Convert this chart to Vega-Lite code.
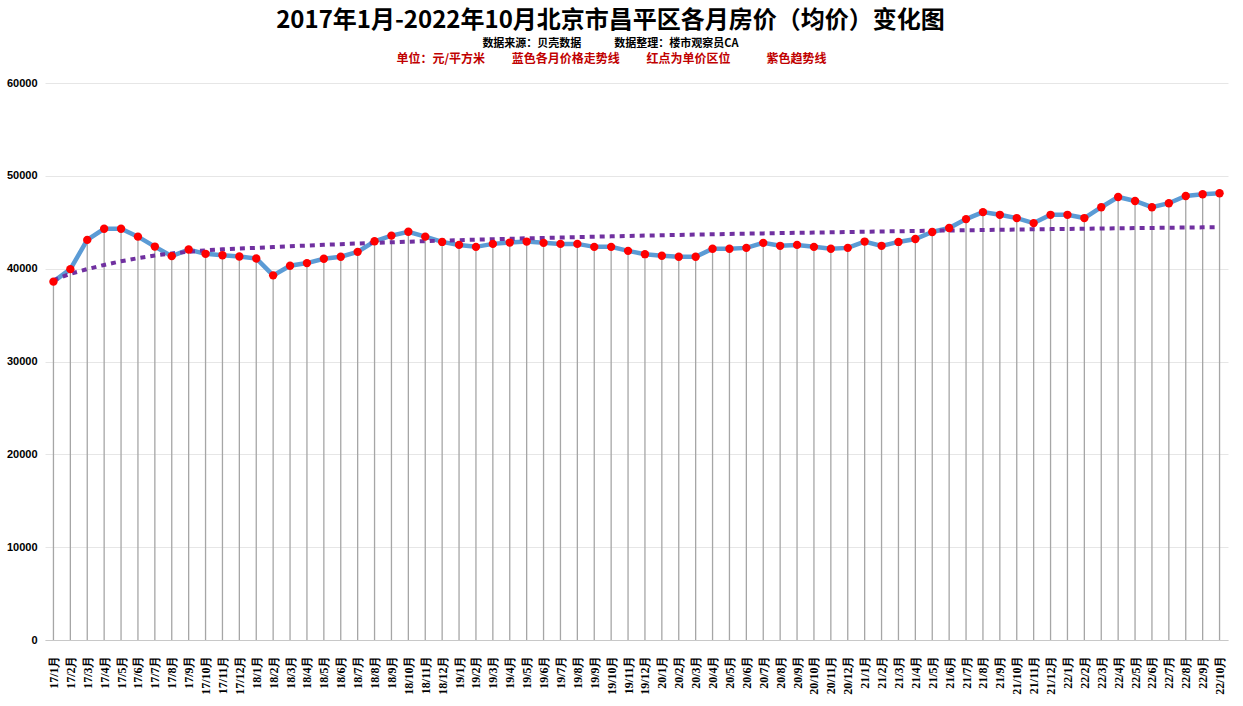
{
  "$schema": "https://vega.github.io/schema/vega-lite/v6.json",
  "width": 1183,
  "height": 557,
  "autosize": {"type": "none"},
  "padding": {"left": 45, "top": 83, "right": 15, "bottom": 66},
  "background": "white",
  "config": {"view": {"stroke": null}},
  "title": {
    "text": "2017年1月-2022年10月北京市昌平区各月房价（均价）变化图",
    "subtitle": "数据来源：贝壳数据　　　数据整理：楼市观察员CA",
    "anchor": "middle",
    "dx": -26,
    "font": "Noto Sans CJK SC",
    "fontSize": 24,
    "fontWeight": "bold",
    "color": "#000000",
    "subtitleFont": "Noto Sans CJK SC",
    "subtitleFontSize": 11,
    "subtitleFontWeight": "bold",
    "subtitleColor": "#000000",
    "subtitlePadding": 5,
    "offset": 3
  },
  "data": {
    "values": [
      {"m": "17/1月", "price": 38600, "trend": 38750},
      {"m": "17/2月", "price": 39950, "trend": 39450},
      {"m": "17/3月", "price": 43100, "trend": 39950},
      {"m": "17/4月", "price": 44300, "trend": 40400},
      {"m": "17/5月", "price": 44300, "trend": 40800},
      {"m": "17/6月", "price": 43450, "trend": 41130},
      {"m": "17/7月", "price": 42380, "trend": 41420},
      {"m": "17/8月", "price": 41350, "trend": 41640},
      {"m": "17/9月", "price": 42060, "trend": 41820},
      {"m": "17/10月", "price": 41600, "trend": 41970},
      {"m": "17/11月", "price": 41450, "trend": 42080},
      {"m": "17/12月", "price": 41310, "trend": 42170},
      {"m": "18/1月", "price": 41100, "trend": 42240},
      {"m": "18/2月", "price": 39280, "trend": 42330},
      {"m": "18/3月", "price": 40320, "trend": 42410},
      {"m": "18/4月", "price": 40600, "trend": 42490},
      {"m": "18/5月", "price": 41070, "trend": 42570},
      {"m": "18/6月", "price": 41280, "trend": 42640},
      {"m": "18/7月", "price": 41810, "trend": 42710},
      {"m": "18/8月", "price": 42950, "trend": 42780},
      {"m": "18/9月", "price": 43560, "trend": 42840},
      {"m": "18/10月", "price": 43980, "trend": 42900},
      {"m": "18/11月", "price": 43450, "trend": 42960},
      {"m": "18/12月", "price": 42880, "trend": 43020},
      {"m": "19/1月", "price": 42560, "trend": 43070},
      {"m": "19/2月", "price": 42350, "trend": 43120},
      {"m": "19/3月", "price": 42670, "trend": 43170},
      {"m": "19/4月", "price": 42810, "trend": 43220},
      {"m": "19/5月", "price": 42920, "trend": 43270},
      {"m": "19/6月", "price": 42780, "trend": 43310},
      {"m": "19/7月", "price": 42670, "trend": 43350},
      {"m": "19/8月", "price": 42670, "trend": 43400},
      {"m": "19/9月", "price": 42350, "trend": 43440},
      {"m": "19/10月", "price": 42350, "trend": 43480},
      {"m": "19/11月", "price": 41920, "trend": 43520},
      {"m": "19/12月", "price": 41560, "trend": 43560},
      {"m": "20/1月", "price": 41390, "trend": 43600},
      {"m": "20/2月", "price": 41280, "trend": 43630},
      {"m": "20/3月", "price": 41280, "trend": 43670},
      {"m": "20/4月", "price": 42140, "trend": 43700},
      {"m": "20/5月", "price": 42140, "trend": 43740},
      {"m": "20/6月", "price": 42240, "trend": 43770},
      {"m": "20/7月", "price": 42780, "trend": 43800},
      {"m": "20/8月", "price": 42460, "trend": 43830},
      {"m": "20/9月", "price": 42560, "trend": 43860},
      {"m": "20/10月", "price": 42350, "trend": 43890},
      {"m": "20/11月", "price": 42140, "trend": 43920},
      {"m": "20/12月", "price": 42240, "trend": 43950},
      {"m": "21/1月", "price": 42920, "trend": 43980},
      {"m": "21/2月", "price": 42460, "trend": 44010},
      {"m": "21/3月", "price": 42880, "trend": 44030},
      {"m": "21/4月", "price": 43200, "trend": 44060},
      {"m": "21/5月", "price": 43950, "trend": 44090},
      {"m": "21/6月", "price": 44380, "trend": 44110},
      {"m": "21/7月", "price": 45340, "trend": 44140},
      {"m": "21/8月", "price": 46090, "trend": 44160},
      {"m": "21/9月", "price": 45800, "trend": 44190},
      {"m": "21/10月", "price": 45450, "trend": 44210},
      {"m": "21/11月", "price": 44910, "trend": 44240},
      {"m": "21/12月", "price": 45800, "trend": 44260},
      {"m": "22/1月", "price": 45800, "trend": 44280},
      {"m": "22/2月", "price": 45450, "trend": 44300},
      {"m": "22/3月", "price": 46620, "trend": 44330},
      {"m": "22/4月", "price": 47720, "trend": 44350},
      {"m": "22/5月", "price": 47290, "trend": 44370},
      {"m": "22/6月", "price": 46620, "trend": 44390},
      {"m": "22/7月", "price": 47050, "trend": 44410},
      {"m": "22/8月", "price": 47830, "trend": 44430},
      {"m": "22/9月", "price": 48010, "trend": 44450},
      {"m": "22/10月", "price": 48120, "trend": 44470}
    ]
  },
  "resolve": {"axis": {"x": "independent"}},
  "layer": [
    {
      "mark": {"type": "rule", "color": "#a6a6a6", "strokeWidth": 1.3},
      "encoding": {
        "x": {
          "field": "m", "type": "ordinal", "sort": null,
          "scale": {"type": "point", "padding": 0.5},
          "axis": {
            "orient": "bottom", "title": null, "labelAngle": 270,
            "labelFont": "Liberation Serif", "labelFontSize": 12, "labelFontWeight": "bold",
            "labelColor": "#000000", "ticks": false, "domainColor": "#c8c8c8",
            "labelPadding": 15, "grid": false, "labelOverlap": false, "labelLimit": 100
          }
        },
        "y": {
          "field": "price", "type": "quantitative",
          "scale": {"domain": [0, 60000], "nice": false},
          "axis": {
            "title": null, "values": [0, 10000, 20000, 30000, 40000, 50000, 60000],
            "format": "d", "labelFont": "Liberation Sans", "labelFontSize": 11,
            "labelFontWeight": "bold", "labelColor": "#000000", "ticks": false,
            "domain": false, "gridColor": "#e6e6e6", "labelPadding": 8
          }
        },
        "y2": {"datum": 0}
      }
    },
    {
      "mark": {"type": "line", "color": "#5b9bd5", "strokeWidth": 4.5},
      "encoding": {
        "x": {"field": "m", "type": "ordinal", "sort": null, "axis": null},
        "y": {"field": "price", "type": "quantitative"}
      }
    },
    {
      "mark": {"type": "line", "color": "#7030a0", "strokeWidth": 4, "strokeDash": [5, 5], "strokeCap": "butt"},
      "encoding": {
        "x": {
          "field": "m", "type": "ordinal", "sort": null,
          "axis": {
            "orient": "top", "labels": false, "ticks": false, "domain": false, "grid": false,
            "minExtent": 0,
            "title": "单位：元/平方米　　 蓝色各月价格走势线　　 红点为单价区位　　　紫色趋势线",
            "titleColor": "#c00000", "titleFont": "Noto Sans CJK SC", "titleFontSize": 12,
            "titleFontWeight": "bold", "titlePadding": 18, "titleX": 566, "titleAnchor": "middle"
          }
        },
        "y": {"field": "trend", "type": "quantitative"}
      }
    },
    {
      "mark": {"type": "point", "filled": true, "color": "#ff0000", "size": 70, "opacity": 1},
      "encoding": {
        "x": {"field": "m", "type": "ordinal", "sort": null, "axis": null},
        "y": {"field": "price", "type": "quantitative"}
      }
    }
  ]
}
